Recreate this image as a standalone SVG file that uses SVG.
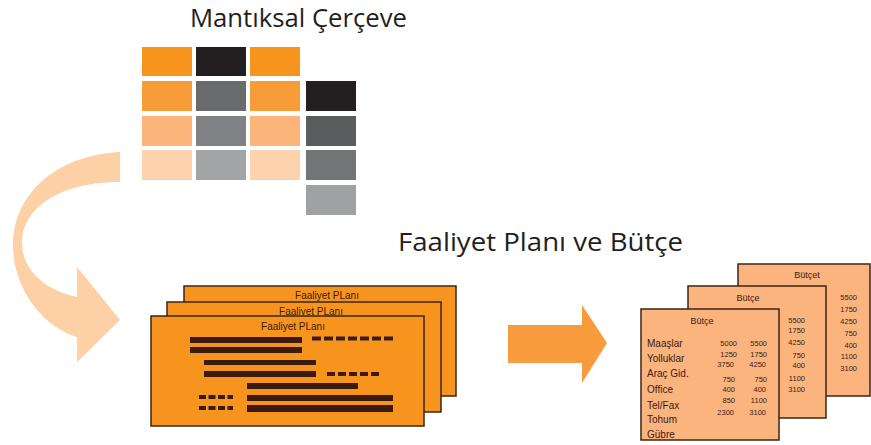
<svg xmlns="http://www.w3.org/2000/svg" width="871" height="445" viewBox="0 0 871 445">
<style>
.title{font-family:"Open Sans","Noto Sans",sans-serif;fill:#231F20}
.plan{fill:#F7941D;stroke:#3C2415;stroke-width:1.5}
.bud{fill:#FCB47E;stroke:#3C2415;stroke-width:1.5}
.bar{fill:#3B1A0F}
.dash{stroke:#3B1A0F;stroke-width:4;fill:none}
.pt{font-family:"Liberation Sans",Arial,sans-serif;font-size:10px;fill:#3B1A0F;text-anchor:middle}
.bt{font-family:"Liberation Sans",Arial,sans-serif;font-size:9px;fill:#3B1A0F;text-anchor:middle}
.lb{font-family:"Liberation Sans",Arial,sans-serif;font-size:10px;fill:#3B1A0F}
.nm{font-family:"Liberation Sans",Arial,sans-serif;font-size:7.5px;fill:#3B1A0F;text-anchor:end}
</style>
<rect width="871" height="445" fill="#FFFFFF"/>
<text class="title" x="190" y="27" font-size="25" textLength="217" lengthAdjust="spacingAndGlyphs">Mantıksal Çerçeve</text>
<text class="title" x="398" y="251" font-size="25.5" textLength="285" lengthAdjust="spacingAndGlyphs">Faaliyet Planı ve Bütçe</text>

<g id="mantiksal-cerceve">
<rect x="142" y="47" width="50" height="29" fill="#F7941D"/>
<rect x="142" y="81" width="50" height="30" fill="#F89C3A"/>
<rect x="142" y="116" width="50" height="30" fill="#FBB57A"/>
<rect x="142" y="150" width="50" height="30" fill="#FDD3AD"/>
<rect x="196" y="47" width="50" height="29" fill="#231F20"/>
<rect x="196" y="81" width="50" height="30" fill="#6A6B6D"/>
<rect x="196" y="116" width="50" height="30" fill="#808184"/>
<rect x="196" y="150" width="50" height="30" fill="#A3A4A6"/>
<rect x="250" y="47" width="50" height="29" fill="#F7941D"/>
<rect x="250" y="81" width="50" height="30" fill="#F89C3A"/>
<rect x="250" y="116" width="50" height="30" fill="#FBB57A"/>
<rect x="250" y="150" width="50" height="30" fill="#FDD3AD"/>
<rect x="306" y="81" width="50" height="30" fill="#231F20"/>
<rect x="306" y="116" width="50" height="30" fill="#5B5C5E"/>
<rect x="306" y="150" width="50" height="30" fill="#737476"/>
<rect x="306" y="185" width="50" height="30" fill="#A0A1A3"/>
</g>

<g id="connectors">
<path d="M120,152 C60,155 15,190 13,243 C12,290 45,328 77,337 L77,362 L120,320 L77,267 L77,297 C45,290 22,270 22,243 C22,208 60,182 120,182 Z" fill="#FDD0A5"/>
<path d="M508,325 L582,325 L582,305 L607,343 L582,383 L582,363 L508,363 Z" fill="#F89B3C"/>
</g>

<g id="faaliyet-plani">
<rect class="plan" x="184" y="286" width="272" height="110"/>
<text class="pt" x="327" y="299">Faaliyet PLanı</text>
<rect class="plan" x="167" y="302" width="274" height="110"/>
<text class="pt" x="311" y="315">Faaliyet PLanı</text>
<rect class="plan" x="151" y="316" width="273" height="110"/>
<text class="pt" x="293" y="330">Faaliyet PLanı</text>
<rect class="bar" x="190" y="337" width="112" height="6"/>
<rect class="bar" x="190" y="347" width="112" height="6"/>
<line class="dash" x1="312" y1="338.5" x2="396" y2="338.5" stroke-dasharray="9 3"/>
<rect class="bar" x="204" y="360" width="112" height="5"/>
<rect class="bar" x="204" y="371" width="112" height="6"/>
<line class="dash" x1="327" y1="374" x2="382" y2="374" stroke-dasharray="8 3"/>
<rect class="bar" x="247" y="383" width="111" height="6"/>
<rect class="bar" x="247" y="395" width="146" height="6"/>
<rect class="bar" x="247" y="405" width="146" height="7"/>
<line class="dash" x1="199" y1="397" x2="233" y2="397" stroke-dasharray="7 2.5"/>
<line class="dash" x1="199" y1="408" x2="233" y2="408" stroke-dasharray="7 2.5"/>
</g>

<g id="butce">
<rect class="bud" x="738" y="264" width="132" height="132"/>
<text class="bt" x="807" y="278">Bütçet</text>
<text class="nm" x="857" y="300">5500</text>
<text class="nm" x="857" y="312">1750</text>
<text class="nm" x="857" y="324">4250</text>
<text class="nm" x="857" y="336">750</text>
<text class="nm" x="857" y="348">400</text>
<text class="nm" x="857" y="359">1100</text>
<text class="nm" x="857" y="371">3100</text>
<rect class="bud" x="688" y="286" width="138" height="132"/>
<text class="bt" x="748" y="301">Bütçe</text>
<text class="nm" x="805" y="323">5500</text>
<text class="nm" x="805" y="333">1750</text>
<text class="nm" x="805" y="345">4250</text>
<text class="nm" x="805" y="358">750</text>
<text class="nm" x="805" y="368">400</text>
<text class="nm" x="805" y="381">1100</text>
<text class="nm" x="805" y="392">3100</text>
<rect class="bud" x="641" y="309" width="138" height="131"/>
<text class="bt" x="702" y="324">Bütçe</text>
<text class="lb" x="647" y="347">Maaşlar</text>
<text class="lb" x="647" y="362">Yolluklar</text>
<text class="lb" x="647" y="377">Araç Gid.</text>
<text class="lb" x="647" y="393">Office</text>
<text class="lb" x="647" y="409">Tel/Fax</text>
<text class="lb" x="647" y="423">Tohum</text>
<text class="lb" x="647" y="438">Gübre</text>
<text class="nm" x="737" y="346">5000</text>
<text class="nm" x="767" y="346">5500</text>
<text class="nm" x="737" y="357">1250</text>
<text class="nm" x="767" y="357">1750</text>
<text class="nm" x="734" y="367">3750</text>
<text class="nm" x="766" y="367">4250</text>
<text class="nm" x="735" y="382">750</text>
<text class="nm" x="767" y="382">750</text>
<text class="nm" x="735" y="392">400</text>
<text class="nm" x="766" y="392">400</text>
<text class="nm" x="735" y="403">850</text>
<text class="nm" x="767" y="403">1100</text>
<text class="nm" x="734" y="415">2300</text>
<text class="nm" x="766" y="415">3100</text>
</g>
</svg>
